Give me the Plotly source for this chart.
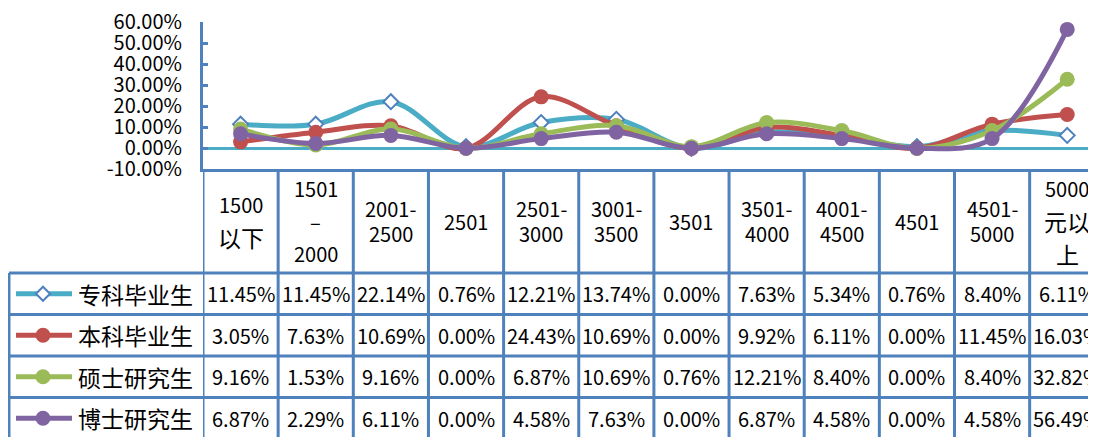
import plotly.graph_objects as go

# ---------------- data ----------------
cat_label_lines = [
    ["1500", "以下"],
    ["1501", "–", "2000"],
    ["2001-", "2500"],
    ["2501"],
    ["2501-", "3000"],
    ["3001-", "3500"],
    ["3501"],
    ["3501-", "4000"],
    ["4001-", "4500"],
    ["4501"],
    ["4501-", "5000"],
    ["5000", "元以", "上"],
]
series_names = ["专科毕业生", "本科毕业生", "硕士研究生", "博士研究生"]
zhuanke = [11.45, 11.45, 22.14, 0.76, 12.21, 13.74, 0.00, 7.63, 5.34, 0.76, 8.40, 6.11]
benke = [3.05, 7.63, 10.69, 0.00, 24.43, 10.69, 0.00, 9.92, 6.11, 0.00, 11.45, 16.03]
shuoshi = [9.16, 1.53, 9.16, 0.00, 6.87, 10.69, 0.76, 12.21, 8.40, 0.00, 8.40, 32.82]
boshi = [6.87, 2.29, 6.11, 0.00, 4.58, 7.63, 0.00, 6.87, 4.58, 0.00, 4.58, 56.49]
y_ticks = [-10, 0, 10, 20, 30, 40, 50, 60]

# ---------------- styling / layout ----------------
W, H = 1096, 437
OFF = 8  # page body margin: the figure is drawn 8px in from the window corner
FONT = "Noto Sans CJK SC"
GRID = "#4F81BD"
colors = ["#4BACC6", "#C0504D", "#9BBB59", "#8064A2"]
all_series = [zhuanke, benke, shuoshi, boshi]

# target positions in window pixels
x_left_px = 203.0
cat_w = 75.15
plot_top_px, plot_bot_px = 22.0, 169.3
table_top_px = 273.0
row_h = 41.5
header_center_px = 221.0


def px(x):
    return (x - OFF) / W


def py(y):
    return 1 - (y - OFF) / H


n = len(cat_label_lines)
xs = list(range(n))

fig = go.Figure()
for name, vals, col in zip(series_names, all_series, colors):
    if name == series_names[0]:
        marker = dict(symbol="diamond", size=11.5, color="white",
                      line=dict(color="#4F81BD", width=2))
    else:
        marker = dict(symbol="circle", size=15, color=col, line=dict(width=0))
    fig.add_trace(go.Scatter(
        x=xs, y=vals, name=name, mode="lines+markers",
        line=dict(color=col, width=5, shape="spline", smoothing=1.0),
        marker=marker, showlegend=False, cliponaxis=False,
    ))

shapes = []
annotations = []

# table horizontal lines
row_edges = [table_top_px + k * row_h for k in range(4)]
for yy in row_edges:
    shapes.append(dict(type="line", xref="paper", yref="paper",
                       x0=px(9), x1=1, y0=py(yy), y1=py(yy),
                       line=dict(color=GRID, width=3)))
# legend column left border
shapes.append(dict(type="line", xref="paper", yref="paper",
                   x0=px(9), x1=px(9), y0=py(table_top_px), y1=0,
                   line=dict(color=GRID, width=3)))
# vertical category borders
for k in range(n + 1):
    shapes.append(dict(type="line", xref="x", yref="paper",
                       x0=k - 0.5, x1=k - 0.5, y0=py(plot_bot_px), y1=0,
                       line=dict(color=GRID, width=3)))

# category header labels
for i, lines in enumerate(cat_label_lines):
    has_wide = any(any(ord(ch) > 0x2000 for ch in ln) for ln in lines)
    spacing = 32.5 if has_wide else 25.0
    m = len(lines)
    for j, ln in enumerate(lines):
        yc = header_center_px + (j - (m - 1) / 2) * spacing
        cjk = any(ord(ch) > 0x2E80 for ch in ln)
        annotations.append(dict(
            x=i, xref="x", y=py(yc), yref="paper", text=ln, showarrow=False,
            xanchor="center", yanchor="middle",
            font=dict(family=FONT, size=23 if cjk else 20, color="black")))

# table rows
for r, (name, vals, col) in enumerate(zip(series_names, all_series, colors)):
    yc = table_top_px + (r + 0.5) * row_h
    # legend symbol
    shapes.append(dict(type="line", xref="paper", yref="paper",
                       x0=px(16), x1=px(72), y0=py(yc), y1=py(yc),
                       line=dict(color=col, width=5)))
    if r == 0:
        d = 7
        shapes.append(dict(type="path", xref="paper", yref="paper",
                           xsizemode="pixel", ysizemode="pixel",
                           xanchor=px(43), yanchor=py(yc),
                           path=f"M {-d} 0 L 0 {d} L {d} 0 L 0 {-d} Z",
                           fillcolor="white", line=dict(color="#4F81BD", width=2)))
    else:
        rr = 7.5
        shapes.append(dict(type="circle", xref="paper", yref="paper",
                           xsizemode="pixel", ysizemode="pixel",
                           xanchor=px(43), yanchor=py(yc),
                           x0=-rr, x1=rr, y0=-rr, y1=rr,
                           fillcolor=col, line=dict(width=0)))
    annotations.append(dict(
        x=px(76), xref="paper", y=py(yc), yref="paper", text=name,
        showarrow=False, xanchor="left", yanchor="middle",
        font=dict(family=FONT, size=23, color="black")))
    for i, v in enumerate(vals):
        annotations.append(dict(
            x=i, xref="x", y=py(yc), yref="paper", text=f"{v:.2f}%",
            showarrow=False, xanchor="center", yanchor="middle",
            font=dict(family=FONT, size=20, color="black")))

fig.update_layout(
    width=W, height=H,
    margin=dict(l=0, r=0, t=0, b=0, autoexpand=False),
    paper_bgcolor="white", plot_bgcolor="white",
    font=dict(family=FONT, color="black"),
    xaxis=dict(domain=[px(x_left_px), 1],
               range=[-0.5, -0.5 + (W + OFF - x_left_px) / cat_w],
               showline=True, linecolor=GRID, linewidth=3, automargin=False,
               showticklabels=False, ticks="", showgrid=False, zeroline=False),
    yaxis=dict(domain=[py(plot_bot_px), py(plot_top_px)],
               range=[-10, 60], automargin=False,
               tickvals=y_ticks, ticktext=[f"{v:.2f}%" for v in y_ticks],
               tickfont=dict(family=FONT, size=20, color="black"),
               ticklabeloverflow="allow",
               showline=True, linecolor=GRID, linewidth=3,
               ticks="inside", ticklen=5, tickwidth=3, tickcolor=GRID,
               ticklabelstandoff=14,
               showgrid=False, zeroline=True, zerolinecolor="#4BACC6",
               zerolinewidth=2.5),
    shapes=shapes, annotations=annotations,
)

fig.write_html("out.html")
